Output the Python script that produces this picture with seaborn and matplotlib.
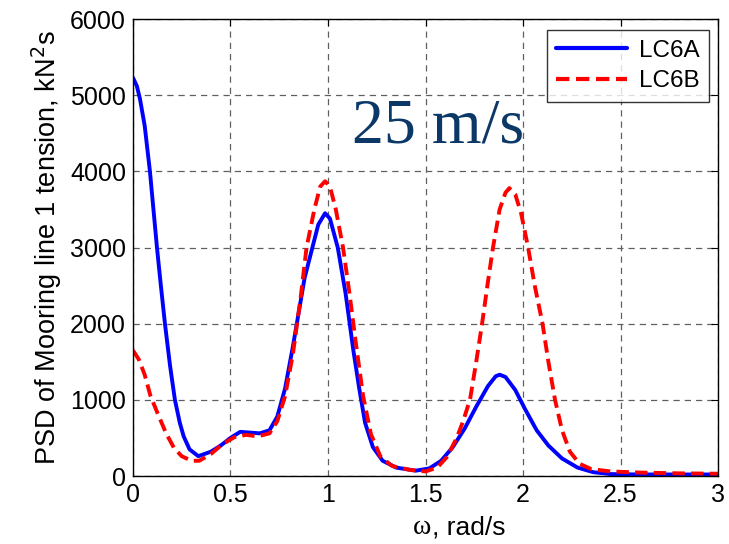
import numpy as np
import pandas as pd
import matplotlib
matplotlib.use("Agg")
import matplotlib.pyplot as plt
import seaborn as sns

# LC6A (solid blue)
omega_a = [0.0, 0.02, 0.036, 0.06, 0.087, 0.105, 0.123, 0.143, 0.164, 0.19, 0.215, 0.24,
           0.26, 0.29, 0.335, 0.40, 0.45, 0.50, 0.55, 0.60, 0.65, 0.70, 0.74, 0.78,
           0.82, 0.86, 0.88, 0.92, 0.95, 0.985, 1.01, 1.05, 1.09, 1.13, 1.16, 1.19,
           1.23, 1.28, 1.35, 1.45, 1.52, 1.58, 1.64, 1.70, 1.76, 1.82, 1.86, 1.88,
           1.91, 1.96, 2.01, 2.07, 2.13, 2.20, 2.28, 2.36, 2.45, 2.60, 3.0]
psd_a = [5230, 5120, 4950, 4600, 4000, 3500, 3000, 2500, 2000, 1450, 1000, 700,
         520, 350, 260, 320, 400, 500, 580, 570, 560, 600, 780, 1150,
         1700, 2300, 2600, 3000, 3300, 3450, 3380, 3000, 2400, 1650, 1150, 700,
         380, 200, 110, 70, 100, 200, 380, 620, 910, 1180, 1310, 1330,
         1300, 1130, 880, 600, 400, 230, 110, 50, 25, 20, 20]

# LC6B (dashed red)
omega_b = [0.0, 0.03, 0.06, 0.09, 0.13, 0.17, 0.21, 0.25, 0.30, 0.34, 0.40, 0.46,
           0.52, 0.58, 0.64, 0.70, 0.74, 0.78, 0.82, 0.86, 0.89, 0.93, 0.96, 0.985,
           1.01, 1.04, 1.077, 1.11, 1.14, 1.18, 1.22, 1.27, 1.33, 1.42, 1.50, 1.56,
           1.61, 1.66, 1.69, 1.728, 1.76, 1.79, 1.82, 1.846, 1.88, 1.91, 1.93, 1.96,
           1.99, 2.026, 2.06, 2.10, 2.13, 2.164, 2.20, 2.24, 2.29, 2.35, 2.45, 2.60,
           2.80, 3.0]
psd_b = [1650, 1530, 1330, 1050, 800, 560, 370, 260, 200, 200, 290, 420,
         510, 540, 520, 560, 720, 1050, 1600, 2350, 3000, 3500, 3800, 3870,
         3800, 3500, 3000, 2400, 1800, 1050, 550, 250, 130, 80, 60, 110,
         250, 500, 700, 1000, 1500, 2000, 2550, 3000, 3500, 3720, 3780, 3700,
         3450, 3000, 2500, 2000, 1500, 1000, 600, 320, 160, 90, 60, 45,
         35, 30]

df = pd.concat([
    pd.DataFrame({"omega": omega_a, "psd": psd_a, "case": "LC6A"}),
    pd.DataFrame({"omega": omega_b, "psd": psd_b, "case": "LC6B"}),
])

sns.set_style("white")
plt.rcParams['font.family'] = ['Liberation Sans', 'DejaVu Sans']
plt.rcParams['text.color'] = 'black'
plt.rcParams['axes.labelcolor'] = 'black'
plt.rcParams['xtick.color'] = 'black'
plt.rcParams['ytick.color'] = 'black'

fig = plt.figure(figsize=(7.29, 5.44), dpi=100)
ax = fig.add_axes([0.1824, 0.125, 0.8026, 0.840])

sns.lineplot(data=df, x="omega", y="psd", hue="case", style="case",
             palette={"LC6A": "#0000ff", "LC6B": "#ff0000"},
             dashes={"LC6A": "", "LC6B": (3.2, 1.6)},
             linewidth=2.8, ax=ax, sort=False, estimator=None)

ax.set_xlim(0, 3)
ax.set_ylim(0, 6000)
ax.set_xticks([0, 0.5, 1, 1.5, 2, 2.5, 3])
ax.set_xticklabels(["0", "0.5", "1", "1.5", "2", "2.5", "3"])
ax.set_yticks(range(0, 6001, 1000))
ax.tick_params(direction="in", labelsize=18, length=5, width=0.8,
               top=True, right=True, pad=5)
ax.grid(True, color="#606060", linestyle=(0, (5, 4)), linewidth=0.9)
for s in ax.spines.values():
    s.set_color("black")
    s.set_linewidth(1.0)

ax.set_ylabel("PSD of Mooring line 1 tension, kN$^2$s", fontsize=19.5, labelpad=4)
ax.set_xlabel("")
fig.text(0.592, 0.018, "\u03c9", fontsize=20, family="Liberation Serif", ha="right")
fig.text(0.592, 0.018, ", rad/s", fontsize=19, ha="left")

ax.text(1.565, 4580, "25 m/s", fontsize=46, family="Liberation Serif",
        color="#0c3868", ha="center", va="center")

leg = ax.legend(loc="upper right", fontsize=17.5, frameon=True, fancybox=False,
                handlelength=2.9, handletextpad=0.5, borderpad=0.4,
                labelspacing=0.35, borderaxespad=0,
                bbox_to_anchor=(0.985, 0.976))
leg.get_frame().set_edgecolor("black")
leg.get_frame().set_linewidth(1.0)
for line in leg.get_lines():
    line.set_linewidth(3.0)

fig.savefig("out.png", dpi=100)
